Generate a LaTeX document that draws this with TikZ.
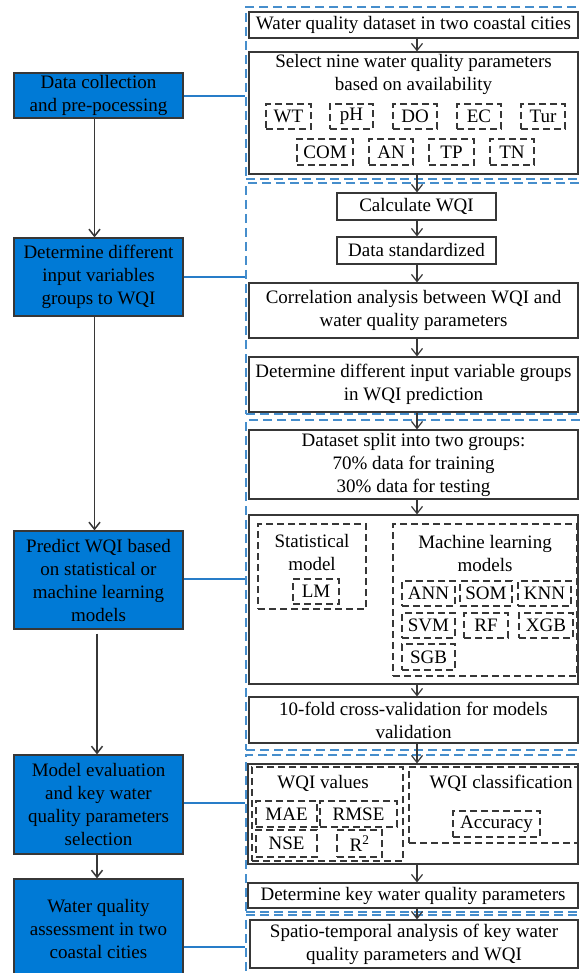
\documentclass[tikz,border=0pt]{standalone}
\usepackage{fontspec}
\setmainfont{Liberation Serif}
\usetikzlibrary{arrows.meta}
\definecolor{bfill}{RGB}{0,122,214}
\definecolor{fblue}{RGB}{70,142,204}
\definecolor{lblue}{RGB}{40,125,200}
\definecolor{dgray}{RGB}{55,55,55}
\begin{document}
\begin{tikzpicture}[x=1pt,y=-1pt,
  font=\fontsize{19}{23}\selectfont,
  sbox/.style={draw=dgray, line width=1.2pt, fill=white, inner sep=0pt, align=center},
  pbox/.style={draw=dgray, line width=1.3pt, dash pattern=on 7pt off 4pt, inner sep=0pt, align=center},
  bbox/.style={draw=dgray, line width=1.2pt, fill=bfill, inner sep=0pt, align=center, minimum width=169pt},
  frame/.style={draw=fblue, line width=1.8pt, dash pattern=on 9pt off 5pt, inner sep=0pt, minimum width=380pt},
  ttl/.style={inner sep=0pt, align=center},
  arr/.style={draw=dgray, line width=1.2pt, -{Straight Barb[length=7pt,width=11pt]}},
  larr/.style={arr, line width=1.5pt},
  link/.style={draw=lblue, line width=1.3pt}]
\useasboundingbox (0,0) rectangle (580,973);
\clip (0,0) rectangle (580,973);
\fill[white] (0,0) rectangle (580,973);

% frames
\node[frame, minimum height=172pt] (g1) at (436,93) {};
\node[frame, minimum height=231pt] (g2) at (436,298.5) {};
\node[frame, minimum height=330pt] (g3) at (436,585) {};
\node[frame, minimum height=157pt] (g4) at (436,833.5) {};
\node[frame, minimum height=75pt] (g5) at (436,952.5) {};

% left blue boxes
\node[bbox, minimum height=45pt] (b1) at (98.5,95.5) {Data collection\\and pre-pocessing};
\node[bbox, minimum height=78pt] (b2) at (98.5,277) {Determine different\\input variables\\groups to WQI};
\node[bbox, minimum height=98pt] (b3) at (98.5,580) {Predict WQI based\\on statistical or\\machine learning\\models};
\node[bbox, minimum height=99pt] (b4) at (98.5,804.5) {Model evaluation\\and key water\\quality parameters\\selection};
\node[bbox, minimum height=100pt] (b5) at (98.5,929) {Water quality\\assessment in two\\coastal cities};

% group 1
\node[sbox, minimum width=329pt, minimum height=26pt] (d1) at (413.5,25) {Water quality dataset in two coastal cities};
\node[sbox, minimum width=329pt, minimum height=122pt] (sel) at (413.5,113) {};
\node[ttl] (selT) at (413.5,74.5) {Select nine water quality parameters\\based on availability};
\node[pbox, minimum width=45pt, minimum height=25pt] (pWT) at (288.5,116.5) {WT};
\node[pbox, minimum width=43pt, minimum height=25pt] (pPH) at (351.5,116.5) {pH};
\node[pbox, minimum width=44pt, minimum height=25pt] (pDO) at (415,116.5) {DO};
\node[pbox, minimum width=44pt, minimum height=25pt] (pEC) at (479,116.5) {EC};
\node[pbox, minimum width=44pt, minimum height=25pt] (pTur) at (543,116.5) {Tur};
\node[pbox, minimum width=56pt, minimum height=26pt] (pCOM) at (325,152) {COM};
\node[pbox, minimum width=44pt, minimum height=26pt] (pAN) at (391,152) {AN};
\node[pbox, minimum width=45pt, minimum height=26pt] (pTP) at (451.5,152) {TP};
\node[pbox, minimum width=44pt, minimum height=26pt] (pTN) at (512,152) {TN};

% group 2
\node[sbox, minimum width=159pt, minimum height=27pt] (calc) at (416.5,206.5) {Calculate WQI};
\node[sbox, minimum width=159pt, minimum height=27pt] (std) at (416.5,250.5) {Data standardized};
\node[sbox, minimum width=329pt, minimum height=55pt] (corr) at (413.5,310.5) {Correlation analysis between WQI and\\water quality parameters};
\node[sbox, minimum width=329pt, minimum height=55pt] (det) at (413.5,384.5) {Determine different input variable groups\\in WQI prediction};

% group 3
\node[sbox, minimum width=329pt, minimum height=69pt] (split) at (413.5,464.5) {Dataset split into two groups:\\70\% data for training\\30\% data for testing};
\node[sbox, minimum width=329pt, minimum height=169pt] (mod) at (413.5,599.5) {};
\node[pbox, minimum width=108pt, minimum height=85pt] (stat) at (312,566.5) {};
\node[ttl] (statT) at (312,552) {Statistical\\model};
\node[pbox, minimum width=46pt, minimum height=25pt] (mLM) at (316,591.5) {LM};
\node[pbox, minimum width=184pt, minimum height=152pt] (ml) at (485,600) {};
\node[ttl] (mlT) at (485,553) {Machine learning\\models};
\node[pbox, minimum width=53pt, minimum height=25pt] (mANN) at (428.5,593.5) {ANN};
\node[pbox, minimum width=52pt, minimum height=25pt] (mSOM) at (486,593.5) {SOM};
\node[pbox, minimum width=53pt, minimum height=25pt] (mKNN) at (544.5,593.5) {KNN};
\node[pbox, minimum width=53pt, minimum height=25pt] (mSVM) at (428.5,625.5) {SVM};
\node[pbox, minimum width=44pt, minimum height=25pt] (mRF) at (486,625.5) {RF};
\node[pbox, minimum width=54pt, minimum height=25pt] (mXGB) at (546,625.5) {XGB};
\node[pbox, minimum width=53pt, minimum height=26pt] (mSGB) at (428.5,657) {SGB};
\node[sbox, minimum width=329pt, minimum height=46pt] (cv) at (413.5,720) {10-fold cross-validation for models\\validation};

% group 4
\node[sbox, minimum width=330pt, minimum height=100pt] (ev) at (413,814) {};
\node[pbox, minimum width=151pt, minimum height=94pt] (wv) at (327.5,814) {};
\node[ttl] (wvT) at (323,783) {WQI values};
\node[pbox, minimum width=61pt, minimum height=26pt] (eMAE) at (286.5,814) {MAE};
\node[pbox, minimum width=77pt, minimum height=26pt] (eRMSE) at (358.5,814) {RMSE};
\node[pbox, minimum width=61pt, minimum height=27pt] (eNSE) at (286.5,843.5) {NSE};
\node[pbox, minimum width=45pt, minimum height=27pt] (eR2) at (359.5,843.5) {R\textsuperscript{2}};
\node[pbox, minimum width=169pt, minimum height=76pt] (wc) at (493.5,805) {};
\node[ttl] (wcT) at (501,783) {WQI classification};
\node[pbox, minimum width=87pt, minimum height=26pt] (eAcc) at (496.5,824) {Accuracy};
\node[sbox, minimum width=330pt, minimum height=25pt] (key) at (413,895.5) {Determine key water quality parameters};

% group 5
\node[sbox, minimum width=328pt, minimum height=48pt] (sp) at (414,944) {Spatio-temporal analysis of key water\\quality parameters and WQI};

% right column arrows
\coordinate (ax) at (417,0);
\draw[arr] (d1.south -| ax) -- (sel.north -| ax);
\draw[arr] (sel.south -| ax) -- (calc.north -| ax);
\draw[arr] (calc.south -| ax) -- (std.north -| ax);
\draw[arr] (std.south -| ax) -- (corr.north -| ax);
\draw[arr] (corr.south -| ax) -- (det.north -| ax);
\draw[arr] (det.south -| ax) -- (split.north -| ax);
\draw[arr] (split.south -| ax) -- (mod.north -| ax);
\draw[arr] (mod.south -| ax) -- (cv.north -| ax);
\draw[arr] (cv.south -| ax) -- (ev.north -| ax);
\draw[arr] (ev.south -| ax) -- (key.north -| ax);
\draw[arr] (key.south -| ax) -- (sp.north -| ax);

% left column arrows
\draw[larr] ([xshift=-4pt]b1.south) -- ([xshift=-4pt]b2.north);
\draw[larr] ([xshift=-4pt]b2.south) -- ([xshift=-4pt]b3.north);
\draw[larr] ([xshift=-1.5pt,yshift=-4pt]b3.south) -- ([xshift=-1.5pt]b4.north);
\draw[larr] ([xshift=-1.5pt]b4.south) -- ([xshift=-1.5pt]b5.north);

% links
\draw[link] ([yshift=-0.5pt]b1.east) -- ([yshift=-0.5pt]b1.east -| g1.west);
\draw[link] (b2.east) -- (b2.east -| g2.west);
\draw[link] ([yshift=1pt]b3.east) -- ([yshift=1pt]b3.east -| g3.west);
\draw[link] ([yshift=1.5pt]b4.east) -- ([yshift=1.5pt]b4.east -| g4.west);
\draw[link] ([yshift=-18pt]b5.east) -- ([yshift=-18pt]b5.east -| g5.west);
\end{tikzpicture}
\end{document}
